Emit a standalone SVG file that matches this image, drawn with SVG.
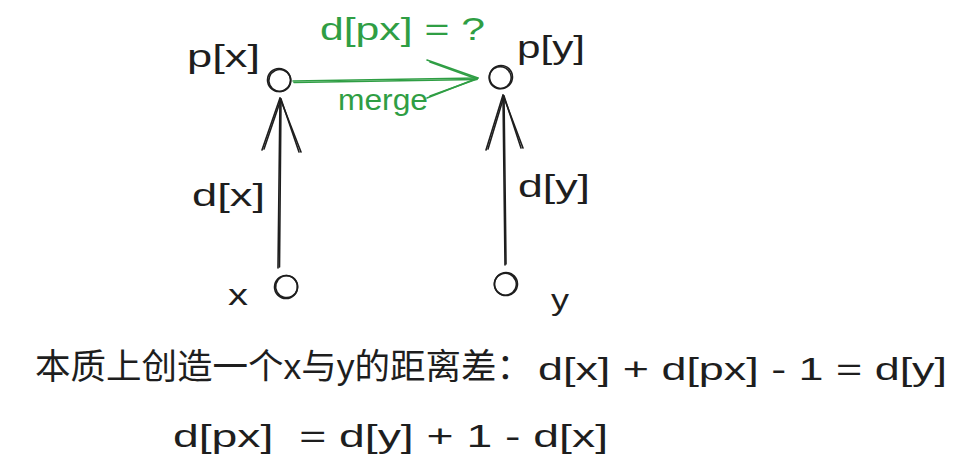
<svg xmlns="http://www.w3.org/2000/svg" width="973" height="473" viewBox="0 0 973 473">
<style>
.t{font-family:"Liberation Sans","Noto Sans CJK SC",sans-serif;fill:#1e1e1e;white-space:pre}
.g{fill:#2f9e44}
.s{fill:none;stroke:#1e1e1e;stroke-width:1.6;stroke-linecap:round;stroke-linejoin:round}
.sg{fill:none;stroke:#2f9e44;stroke-width:1.6;stroke-linecap:round;stroke-linejoin:round}
</style>
<rect width="973" height="473" fill="#ffffff"/>
<g id="node-px">
<circle class="s" cx="279" cy="80" r="11.5"/>
<circle class="s" cx="280" cy="80.5" r="11" transform="rotate(20 280 80)"/>
<text class="t" x="187" y="67" font-size="32" textLength="73" lengthAdjust="spacingAndGlyphs">p[x]</text>
</g>
<g id="node-py">
<circle class="s" cx="501" cy="77" r="11.5"/>
<circle class="s" cx="500.5" cy="77.5" r="11" transform="rotate(30 500 77)"/>
<text class="t" x="517" y="58" font-size="32" textLength="68" lengthAdjust="spacingAndGlyphs">p[y]</text>
</g>
<g id="node-x">
<circle class="s" cx="286" cy="287" r="11.5"/>
<circle class="s" cx="286.5" cy="286.5" r="11" transform="rotate(15 286 287)"/>
<text class="t" x="228" y="305" font-size="30" textLength="20" lengthAdjust="spacingAndGlyphs">x</text>
</g>
<g id="node-y">
<circle class="s" cx="506" cy="284" r="11.5"/>
<circle class="s" cx="505.5" cy="284.5" r="11" transform="rotate(25 506 284)"/>
<text class="t" x="551" y="310" font-size="30" textLength="18" lengthAdjust="spacingAndGlyphs">y</text>
</g>
<g id="connectors">
<g id="edge-x-px">
<path class="s" d="M278 268 L280 98"/>
<path class="s" d="M279.5 267 L281 99"/>
<path class="s" d="M262 150 L280 98 L301 152"/>
<path class="s" d="M264 149 L281 99 L299 152"/>
</g>
<g id="edge-y-py">
<path class="s" d="M505 265 L503 95"/>
<path class="s" d="M506 264 L504 96"/>
<path class="s" d="M486 150 L503 95 L523 148"/>
<path class="s" d="M488 149 L504 96 L521 148"/>
</g>
<g id="edge-px-py">
<path class="sg" d="M293 81 L478 78"/>
<path class="sg" d="M294 82.5 L477 79.5"/>
<path class="sg" d="M427 60 L478 78 L427 98"/>
<path class="sg" d="M430 62 L477 79 L430 96"/>
</g>
<text class="t" x="192" y="206" font-size="32" textLength="73" lengthAdjust="spacingAndGlyphs">d[x]</text>
<text class="t" x="518" y="197" font-size="32" textLength="72" lengthAdjust="spacingAndGlyphs">d[y]</text>
<text class="t g" x="320" y="40" font-size="32" textLength="165" lengthAdjust="spacingAndGlyphs">d[px] = ?</text>
<text class="t g" x="338" y="110" font-size="30" textLength="90" lengthAdjust="spacingAndGlyphs">merge</text>
</g>
<text class="t" x="35" y="379" font-size="35" textLength="497" lengthAdjust="spacingAndGlyphs">本质上创造一个x与y的距离差：</text>
<text class="t" x="538" y="380" font-size="32" textLength="409" lengthAdjust="spacingAndGlyphs">d[x] + d[px] - 1 = d[y]</text>
<text class="t" x="173" y="447" font-size="32" textLength="435" lengthAdjust="spacingAndGlyphs">d[px]  = d[y] + 1 - d[x]</text>
</svg>
